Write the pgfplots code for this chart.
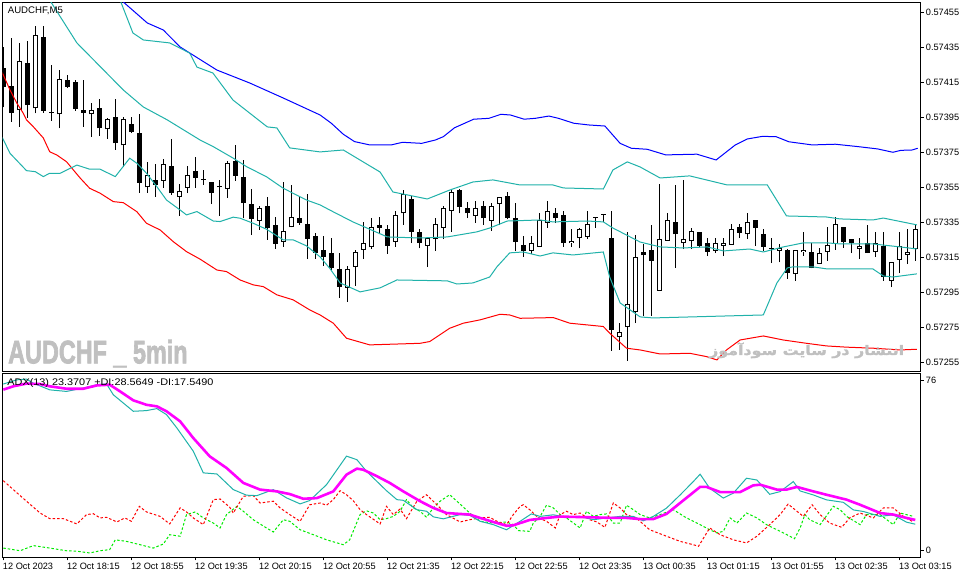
\documentclass[border=0pt]{standalone}
\usepackage{fontspec}
\setmainfont{Liberation Sans}
\newfontfamily\arabicfont[Script=Arabic, BoldFeatures={FakeBold=1.5}]{DejaVu Sans}
\newfontfamily\wmfont[BoldFeatures={FakeBold=2.5}]{Liberation Sans}
\usepackage{pgfplots}
\usepackage{pgfplotstable}
\pgfplotsset{compat=1.18}
\TeXXeTstate=1
\definecolor{bandcyan}{RGB}{32,178,170}
\definecolor{wm}{RGB}{192,192,192}
\definecolor{mtblue}{RGB}{0,0,255}
\definecolor{mtred}{RGB}{255,0,0}
\definecolor{mtgreen}{RGB}{0,235,0}
\definecolor{mtmag}{RGB}{255,0,255}

% candles: k, open, high, low, close (price = 0.57 + value*1e-5)
\pgfplotstableread{
k o h l c
0 423.0 435.3 400.7 412.1
1 412.9 440.5 392.5 397.6
2 399.2 437.3 389.6 427.2
3 426.2 438.6 394.8 402.0
4 400.1 447.2 397.3 442.0
5 440.7 447.2 397.6 398.8
6 397.6 424.9 393.1 397.6
7 396.7 422.0 388.7 416.7
8 416.3 419.2 411.7 412.5
9 415.3 416.3 398.8 399.6
10 399.2 416.3 389.6 397.6
11 396.7 403.0 383.9 399.2
12 400.1 405.3 384.3 388.7
13 388.1 394.4 382.8 394.0
14 395.0 405.3 376.3 380.1
15 379.0 395.3 366.8 394.0
16 391.2 395.3 385.9 386.8
17 385.9 396.9 351.9 357.6
18 355.0 369.5 351.9 362.0
19 359.2 368.3 349.6 356.3
20 358.8 371.2 354.8 368.3
21 367.2 382.4 350.6 351.6
22 349.6 356.9 338.6 353.1
23 354.8 367.2 351.6 362.0
24 364.3 372.1 354.8 360.5
25 359.2 364.9 356.3 359.2
26 358.0 358.0 345.3 351.9
27 355.0 359.2 338.6 355.0
28 353.9 370.2 349.1 369.1
29 370.2 379.2 358.8 361.6
30 360.9 370.6 337.3 345.9
31 345.5 353.9 327.7 337.1
32 335.9 344.3 330.6 343.2
33 344.3 349.3 324.9 331.9
34 333.5 337.9 319.9 322.6
35 323.9 357.9 321.1 330.0
36 332.1 356.3 332.1 337.9
37 337.5 349.6 333.5 334.8
38 334.0 351.2 313.9 325.6
39 327.2 329.1 314.0 317.6
40 319.2 327.2 310.0 314.9
41 317.3 325.9 307.7 309.1
42 308.3 317.3 291.9 297.9
43 297.3 310.0 289.6 308.3
44 309.3 319.2 298.6 317.9
45 319.2 335.0 313.9 323.0
46 320.7 337.3 319.7 332.1
47 333.5 338.2 328.1 331.9
48 331.2 333.5 316.9 321.6
49 323.9 341.6 321.1 339.2
50 340.1 353.5 333.5 351.2
51 348.3 350.2 323.0 329.6
52 329.6 331.0 320.1 323.0
53 321.6 326.2 309.3 325.9
54 325.3 337.6 318.8 334.0
55 331.9 344.3 325.3 343.0
56 341.6 354.0 329.6 352.5
57 353.5 354.0 340.1 343.9
58 343.0 346.8 337.3 340.1
59 338.8 347.3 334.8 343.0
60 344.3 347.2 333.5 337.3
61 335.9 345.9 330.2 344.3
62 345.3 349.6 333.5 349.3
63 350.0 352.5 336.7 337.3
64 337.3 345.9 318.8 323.9
65 322.0 327.2 315.3 318.8
66 318.8 327.2 316.9 323.0
67 321.1 340.5 321.1 336.3
68 334.8 347.2 331.9 341.5
69 340.1 343.0 334.8 337.3
70 339.2 341.5 321.1 323.0
71 323.0 331.2 321.1 324.3
72 325.9 331.6 320.1 331.0
73 326.8 341.5 325.3 334.0
74 337.3 338.2 331.9 337.3
75 339.2 339.2 335.3 339.2
76 325.9 341.5 261.6 273.5
77 269.3 277.6 262.0 272.1
78 275.0 329.6 255.9 288.1
79 283.9 327.7 277.3 315.0
80 317.9 322.3 281.5 316.0
81 319.2 333.5 281.5 313.1
82 295.9 356.9 295.9 325.3
83 324.3 340.3 324.3 336.1
84 335.2 356.3 308.9 328.0
85 323.0 359.2 319.7 325.3
86 324.0 331.7 319.7 330.0
87 329.3 329.3 321.1 321.5
88 323.0 325.9 315.7 318.2
89 318.8 325.9 317.3 323.0
90 321.6 325.9 315.7 323.0
91 322.0 334.0 322.0 331.2
92 332.1 334.0 325.9 329.1
93 328.1 340.1 325.3 335.0
94 336.3 336.3 321.6 331.9
95 328.3 331.2 318.6 321.1
96 319.7 325.9 311.6 319.7
97 318.8 322.4 312.1 320.5
98 319.2 319.6 302.6 305.9
99 305.3 319.2 301.6 319.2
100 317.9 329.6 315.9 319.2
101 317.9 323.3 308.7 309.1
102 311.0 320.5 311.0 317.3
103 317.9 332.5 312.9 322.0
104 322.6 337.9 319.2 334.0
105 332.1 332.5 320.5 323.6
106 325.3 325.3 317.3 323.0
107 319.7 325.9 313.9 321.6
108 323.0 333.5 317.3 317.3
109 317.9 329.6 315.0 323.0
110 321.6 329.6 301.6 303.9
111 301.5 312.1 297.9 312.1
112 313.5 329.6 305.9 321.5
113 316.3 331.0 311.0 318.0
114 319.7 334.0 312.9 331.2
}\candles

\pgfplotsset{candlepart/.style={draw=none, mark=none, forget plot,
  mark options={draw=none, fill=none}, mark size=0pt}}

\begin{document}
\begin{tikzpicture}
\useasboundingbox[fill=white] (0,0) rectangle (966bp,578bp);

% ---------------- price panel ----------------
\begin{axis}[
  at={(2.7bp,575.3bp)}, anchor=north west,
  scale only axis, width=918bp, height=368.6bp,
  xmin=-0.075, xmax=114.675, ymin=249.8, ymax=460.5,
  axis line style={black, line width=1bp},
  xtick=\empty,
  ytick={255,275,...,455},
  yticklabels={0.57255,0.57275,0.57295,0.57315,0.57335,0.57355,0.57375,0.57395,0.57415,0.57435,0.57455},
  ytick pos=right, yticklabel pos=right,
  tick align=outside, major tick length=3bp,
  tick style={black, line width=1bp},
  yticklabel style={font=\fontsize{9.2bp}{10bp}\selectfont, anchor=west, inner sep=0pt, xshift=2bp},
  clip=true,
]
% wicks
\addplot[candlepart,
  error bars/.cd, y dir=plus, y explicit, error mark=none,
  error bar style={draw=black, solid, line width=1bp}]
  table[x=k, y=l, y error expr=\thisrow{h}-\thisrow{l}] {\candles};
% bodies (black)
\addplot[candlepart,
  error bars/.cd, y dir=plus, y explicit, error mark=none,
  error bar style={draw=black, solid, line width=4.6bp}]
  table[x=k, y expr={min(\thisrow{o},\thisrow{c})}, y error expr={max(abs(\thisrow{c}-\thisrow{o}),0.6)}] {\candles};
% bullish bodies (white inside)
\addplot[candlepart,
  error bars/.cd, y dir=plus, y explicit, error mark=none,
  error bar style={draw=white, solid, line width=2.6bp}]
  table[x=k, y expr={\thisrow{o}+0.57}, y error expr={(\thisrow{c}-\thisrow{o}>1.14) ? (\thisrow{c}-\thisrow{o}-1.14) : 0}] {\candles};

% outer upper band (blue)
\addplot[mtblue, line width=1bp, mark=none] table[x=k, y=v] {
k v
13.3 467.2
15.0 460.9
18.0 448.9
20.0 444.9
22.1 435.2
26.7 422.0
30.8 414.6
35.0 406.0
39.6 396.3
41.0 391.6
42.5 385.3
43.9 381.1
45.8 379.2
48.5 379.2
49.9 380.7
52.3 380.1
54.0 382.0
55.0 383.9
56.4 389.0
58.8 393.9
60.7 394.4
62.2 396.7
63.4 396.3
65.1 393.9
66.5 394.4
68.2 395.7
69.4 394.4
71.3 391.6
73.2 390.6
75.2 390.0
77.1 380.1
78.5 377.3
80.5 376.7
82.8 373.5
86.7 373.9
89.1 370.6
91.5 379.2
93.0 382.6
94.9 384.1
96.6 383.9
98.2 381.0
101.1 379.2
104.0 379.6
106.9 378.2
109.3 376.9
111.2 375.0
112.2 376.1
113.6 376.3
114.3 377.3
};
% outer lower band (red)
\addplot[mtred, line width=1bp, mark=none] table[x=k, y=v] {
k v
-0.4 423.0
0 419.2
0.84 410.6
1.7 403.0
2.5 397.3
2.9 393.5
3.75 389.6
5.0 383.2
5.8 375.3
6.7 373.4
7.9 369.6
9.6 360.3
10.8 354.4
12.1 351.6
13.75 346.8
15.0 346.2
16.7 341.0
17.9 334.4
19.6 330.6
21.25 323.9
22.9 318.2
24.6 313.9
26.7 307.7
27.9 306.8
29.6 302.0
31.25 299.2
32.5 298.2
34.2 293.5
36.25 290.6
38.3 284.9
39.6 282.0
41.25 277.3
42.9 268.7
45.8 264.9
52.1 265.8
53.3 266.8
55.8 274.4
57.5 277.3
59.6 279.2
62.1 282.4
63.3 282.0
64.6 280.1
68.75 280.5
70.8 277.3
75.0 275.4
75.8 271.6
77.9 263.0
79.6 262.0
82.1 259.7
85.8 260.1
87.9 258.2
89.2 256.3
90.4 262.0
92.1 267.7
95.0 270.0
97.5 267.7
100.4 265.8
102.9 264.3
105.4 263.6
108.75 263.0
112.1 262.0
114.2 262.4
};
% inner upper band (cyan)
\addplot[bandcyan, line width=1bp, mark=none] table[x=k, y=v] {
k v
13.6 473.5
14.6 462.0
16.2 443.2
17.5 439.2
20.8 437.5
23.3 431.7
24.2 423.7
26.2 420.3
28.7 404.9
33.0 389.5
34.2 388.9
35.8 377.5
39.6 375.2
42.5 376.3
47.1 363.7
48.7 352.3
53.0 348.3
55.8 353.4
58.7 358.0
61.2 359.2
64.6 356.3
68.7 356.3
70.0 354.6
75.0 354.0
76.2 364.9
78.0 369.5
79.6 366.6
82.1 360.3
85.8 361.5
90.5 356.3
95.5 356.3
97.9 338.6
102.9 338.0
104.6 336.9
108.7 336.3
110.0 337.4
114.2 333.5
};
% middle line (cyan)
\addplot[bandcyan, line width=1bp, mark=none] table[x=k, y=v] {
k v
4.8 469.5
5.8 462.0
9.2 437.5
15.0 410.6
17.5 400.9
20.5 393.5
24.6 382.0
26.25 378.2
28.75 371.6
30.4 366.8
32.9 361.0
35.0 354.4
37.9 347.7
39.6 344.9
40.8 342.0
43.7 335.2
48.0 326.6
52.1 326.0
55.5 326.6
59.2 329.5
60.8 331.7
63.0 335.7
67.1 336.3
68.7 335.2
73.0 335.7
75.0 335.2
76.2 331.7
79.6 323.7
82.1 320.9
85.0 320.3
88.0 320.9
90.0 318.6
93.3 319.7
95.0 318.0
97.5 320.9
100.0 323.2
103.0 323.2
104.6 322.6
108.7 322.6
112.1 320.9
114.2 319.7
};
% inner lower band (cyan)
\addplot[bandcyan, line width=1bp, mark=none] table[x=k, y=v] {
k v
-0.4 386.0
0.84 374.4
2.9 364.5
4.0 363.9
5.0 361.1
5.8 363.0
7.1 363.0
9.2 367.7
10.8 365.3
12.1 365.3
14.0 361.1
15.8 371.6
16.7 368.7
17.9 363.0
19.2 355.3
20.4 347.7
22.1 342.0
22.9 339.2
24.2 341.1
26.25 335.7
27.1 335.4
28.75 337.9
29.6 337.3
31.25 334.4
32.9 331.0
35.0 324.9
36.25 324.9
37.9 321.5
39.6 315.2
40.8 308.7
42.1 300.3
44.6 295.2
47.1 297.5
49.2 302.0
55.5 301.5
56.7 299.7
58.7 300.3
60.8 303.7
61.7 309.5
63.3 317.5
65.0 318.0
67.1 315.7
68.7 317.5
71.2 316.3
75.0 318.0
75.8 303.7
77.1 288.9
79.6 280.9
81.2 280.3
95.0 282.0
96.7 300.3
98.0 308.9
98.7 309.5
101.2 309.5
103.0 308.3
108.7 308.3
110.0 304.3
111.2 303.7
114.2 305.5
};
\node[anchor=north west, inner sep=0pt, font=\fontsize{9.6bp}{10bp}\selectfont]
  at (rel axis cs:0,1) [xshift=5bp, yshift=-3.5bp] {AUDCHF,M5};
\end{axis}

% ---------------- ADX panel ----------------
\begin{axis}[
  at={(2.7bp,204.3bp)}, anchor=north west,
  scale only axis, width=918bp, height=183.6bp,
  xmin=-0.075, xmax=114.675, ymin=-3.14, ymax=79.14,
  axis line style={black, line width=1bp},
  xtick={0,8,...,112},
  xticklabels={12 Oct 2023,12 Oct 18:15,12 Oct 18:55,12 Oct 19:35,12 Oct 20:15,12 Oct 20:55,12 Oct 21:35,12 Oct 22:15,12 Oct 22:55,12 Oct 23:35,13 Oct 00:35,13 Oct 01:15,13 Oct 01:55,13 Oct 02:35,13 Oct 03:15},
  xtick pos=left,
  xticklabel style={font=\fontsize{9.2bp}{10bp}\selectfont, anchor=north west, inner sep=0pt, xshift=-0.5bp, yshift=-3bp},
  ytick={0,76}, yticklabels={0,76},
  ytick pos=right, yticklabel pos=right,
  yticklabel style={font=\fontsize{9.2bp}{10bp}\selectfont, anchor=west, inner sep=0pt, xshift=2bp},
  tick align=outside, major tick length=3bp,
  tick style={black, line width=1bp},
  clip=true,
]
% -DI (green dotted)
\addplot[mtgreen, line width=1bp, dash pattern=on 2.5bp off 2bp, mark=none] table[x=k, y=v] {
k v
0 1.0
1.25 0.3
2.1 -0.2
3.75 2.1
5.8 1.0
7.9 -0.2
9.2 -0.4
10.8 -1.2
12.1 -0.2
13.3 0.3
14 4.7
15.4 4.0
17.1 2.5
18.75 1.0
20 2.8
20.8 7.0
22.1 6.3
22.9 16.0
24 17.2
25 14.5
26.25 12.2
27.1 10.0
27.9 16.0
29.2 19.7
30 17.5
31.25 13.7
32.9 10.0
33.75 8.2
35 13.7
35.8 13.0
37.1 9.2
38.75 7.0
40.4 4.7
42.5 2.5
43.3 4.7
44.6 16.0
45.4 17.7
46.25 16.7
47.1 13.7
47.9 14.2
48.75 15.2
49.6 17.5
50.4 22.7
51.25 19.0
52.1 17.5
52.9 14.8
53.75 19.0
54.6 22.0
55.8 24.9
57.1 20.7
58.3 16.7
59.6 13.0
61.25 12.2
62.9 12.7
63.75 11.5
64.4 8.8
65.8 8.5
66.25 12.2
67.1 15.2
67.9 20.2
68.75 19.0
69.6 16.0
70.4 14.5
72.1 10.0
72.9 17.5
73.75 15.2
74.6 16.0
75.4 16.3
76.25 12.2
77.1 12.2
77.9 20.2
78.75 18.2
79.6 16.0
80.8 14.5
82.1 16.0
83.75 18.2
85.4 14.5
87.1 11.5
88.3 9.2
89.2 7.8
90 8.5
90.85 14.5
91.7 12.2
92.9 16.7
94.2 14.5
95.4 11.5
96.25 10.0
97.5 7.8
98.9 5.2
99.6 10.0
100.2 16.0
100.8 13.7
102.1 11.5
103.75 19.7
104.6 18.2
105.4 15.2
107.1 11.5
107.9 16.0
109.6 16.0
111.25 11.5
112.1 16.7
113.75 15.2
};
% +DI (red dotted)
\addplot[mtred, line width=1bp, dash pattern=on 2.5bp off 2bp, mark=none] table[x=k, y=v] {
k v
0 31.2
1.25 27.2
2.9 22.0
4.6 16.7
5.8 14.2
7.5 14.2
9.2 11.8
10.4 16.0
11.25 16.4
12.1 14.5
12.9 14.8
14.2 12.7
15.2 14.5
16 13.0
17 19.7
17.9 17.2
19.6 15.2
20.8 11.8
22.1 19.0
22.9 17.2
23.75 14.5
25 11.5
26.25 22.7
27.1 23.0
28.3 19.3
28.75 16.7
30 24.2
31.25 24.5
32.1 21.2
33.75 22.0
34.6 19.0
35.8 16.0
37.1 13.0
38.3 20.4
39.6 21.2
40.4 20.2
41.25 22.7
42.1 26.7
42.9 24.9
43.75 22.2
44.6 18.2
45.4 16.0
47.1 11.8
47.9 19.7
48.75 16.0
49.6 18.5
50.4 14.2
51.7 22.0
52.9 24.9
54.2 20.4
55.4 16.0
57.1 12.7
58.3 13.7
59.6 14.5
60.8 14.8
61.7 13.0
62.9 11.5
63.75 16.0
64.6 19.7
65 20.4
65.8 18.2
66.9 14.5
67.9 13.0
69 10.0
69.6 16.0
70.4 17.5
71.25 16.0
72.1 16.7
73.3 13.7
74.2 12.7
75.2 10.3
76.25 21.2
77.1 19.0
77.9 16.0
79.2 14.2
80.8 9.2
82.9 6.3
84.6 4.0
86.25 2.5
86.9 1.8
88.3 10.0
89.6 7.0
91.25 4.7
92.9 3.3
94.2 6.3
95.8 11.5
97.1 16.0
98.1 20.7
99.2 17.5
100 15.2
101.1 20.4
102.1 16.0
103.3 12.2
104.8 10.3
105.8 14.5
107.1 16.7
108.75 14.5
110 19.0
111.25 19.0
112.5 15.2
113.75 12.7
};
% second line (cyan)
\addplot[bandcyan, line width=1bp, mark=none] table[x=k, y=v] {
k v
0 74.5
1.7 76.4
2.9 76.7
3.75 74.9
5.8 71.9
7.9 71.2
10 72.7
11.7 74.2
12.9 74.6
13.75 69.7
16.25 62.3
17.9 62.6
19.2 63.5
20.4 60.8
21.7 54.8
23.75 44.4
25 34.7
26.7 34.2
28.75 27.2
30.4 24.7
31.7 24.5
33.75 27.2
35.4 23.5
37.1 20.8
38.3 22.3
40.4 29.4
42.9 42.2
44.2 40.6
45.4 35.4
47.9 26.7
49.2 22.7
50 22.4
51.7 18.2
52.9 17.5
53.75 15.0
55 14.1
57.1 16.0
58.3 15.7
59.6 13.0
61.25 11.5
62.9 9.2
64.6 13.0
66 16.3
67.1 15.2
68.75 15.9
70.4 14.8
72.1 15.2
73.75 13.7
75.4 14.5
77.1 15.2
78.75 15.2
80 13.2
81.25 15.2
82.9 18.9
84.6 24.8
86.25 30.8
87.1 34.1
88.3 27.8
90 23.4
91.25 25.6
92.9 32.3
94.2 31.5
95.8 25.1
97.1 26.3
98.75 30.8
99.6 26.6
101.25 24.8
102.9 22.6
105 21.5
106.25 18.1
107.5 17.4
109.6 15.2
111.25 15.9
112.9 12.6
114 11.7
};
% ADX main (magenta)
\addplot[mtmag, line width=2.6bp, mark=none] table[x=k, y=v] {
k v
0 72.0
1.25 73.5
2.9 74.7
4.6 74.5
5.8 73.5
7.9 72.4
10 72.4
11.7 73.9
13.3 74.2
14.6 71.2
16.25 67.2
17.9 65.2
19.2 64.5
20.4 62.3
22.1 57.8
23.75 50.3
25.8 42.1
27.9 36.9
30 30.2
32.1 27.2
34.2 26.4
35.8 25.2
37.5 23.1
39.2 23.4
41.25 26.4
42.9 33.9
44.2 36.6
45 36.1
46.7 33.2
48.3 30.2
50 26.4
52.1 22.0
53.75 19.0
55.4 16.7
57.1 16.3
58.3 16.0
59.6 14.5
61.25 12.7
62.9 11.0
63.75 11.2
65.8 13.6
67.9 14.5
69.6 15.1
72.1 14.9
76.25 14.5
77.9 14.5
79.6 14.0
81.25 14.0
82.9 16.3
84.6 21.2
87.1 28.4
87.9 28.4
89.6 26.1
92.1 26.1
93.75 29.1
94.6 29.4
96.7 27.2
97.9 27.2
99.2 28.4
101.25 26.4
102.9 24.9
105.4 22.7
107.1 20.4
109.6 16.7
111.25 16.0
112.9 14.5
114 13.6
};
\node[anchor=north west, inner sep=0pt, font=\fontsize{9.6bp}{10bp}\selectfont]
  at (rel axis cs:0,1) [xshift=4.6bp, yshift=-4.5bp] {\scalebox{1.13}[1]{ADX(13) 23.3707 +DI:28.5649 -DI:17.5490}};
\end{axis}

% watermarks
\node[anchor=base west, inner sep=0pt, text=wm] at (8bp,214.7bp)
  {\scalebox{0.72}[1]{\wmfont\fontsize{32.5bp}{34bp}\selectfont\bfseries AUDCHF \_ 5min}};
\node[anchor=base west, inner sep=0pt, text=wm] at (709bp,223bp)
  {\resizebox{195bp}{12.5bp}{\arabicfont\bfseries\beginR انتشار در سایت سودآموز\endR}};
\end{tikzpicture}
\end{document}
